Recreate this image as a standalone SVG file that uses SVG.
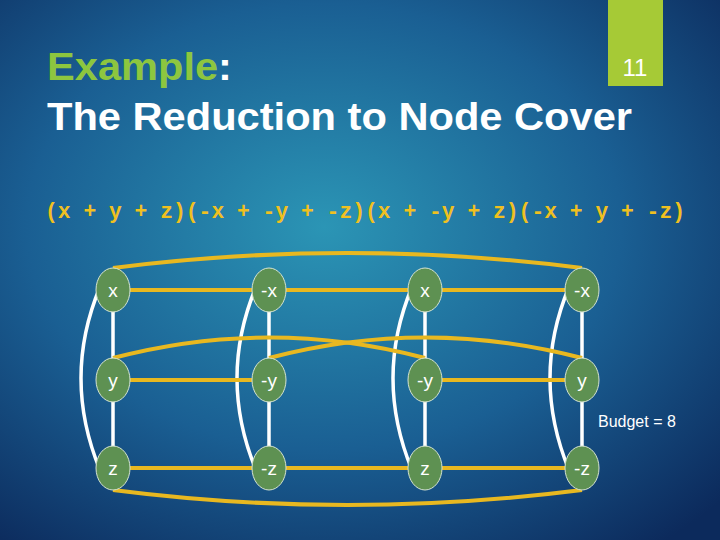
<svg xmlns="http://www.w3.org/2000/svg" width="720" height="540" viewBox="0 0 720 540">
<defs>
<radialGradient id="bg" cx="0.45" cy="0.42" r="0.75">
<stop offset="0" stop-color="#2b95b5"/>
<stop offset="0.55" stop-color="#1a5f93"/>
<stop offset="1" stop-color="#0c2a5c"/>
</radialGradient>
<style>
.n ellipse{fill:#5e9152;stroke:#d6e4d0;stroke-width:1}
.n text{font-family:"Liberation Sans",Arial,sans-serif;font-size:19px;fill:#fff;text-anchor:middle}
.g{stroke:#e8b820;stroke-width:4;fill:none}
.w{stroke:#fff;stroke-width:3.5;fill:none}
</style>
</defs>
<rect width="720" height="540" fill="url(#bg)"/>
<rect x="608" y="0" width="55" height="86" fill="#a6ca36"/>
<text x="635" y="76" font-family="Liberation Sans,Arial,sans-serif" font-size="24" fill="#fff" text-anchor="middle">11</text>
<text x="47" y="80" font-family="Liberation Sans,Arial,sans-serif" font-size="39" font-weight="bold" textLength="185" lengthAdjust="spacingAndGlyphs"><tspan fill="#8dc63f">Example</tspan><tspan fill="#fff">:</tspan></text>
<text x="47" y="130" font-family="Liberation Sans,Arial,sans-serif" font-size="39" font-weight="bold" fill="#fff" textLength="585" lengthAdjust="spacingAndGlyphs">The Reduction to Node Cover</text>
<text x="45" y="218" font-family="Liberation Mono,Courier New,monospace" font-size="22" font-weight="bold" fill="#f0c020" textLength="640" lengthAdjust="spacingAndGlyphs">(x + y + z)(-x + -y + -z)(x + -y + z)(-x + y + -z)</text>
<text x="598" y="427" font-family="Liberation Sans,Arial,sans-serif" font-size="16" fill="#fff">Budget = 8</text>
<g id="connectors">
<path class="w" d="M113 290V468M269 290V468M425 290V468M582 290V468"/>
<path class="w" d="M100 287Q62 378 100 470"/>
<path class="w" d="M256 287Q218 378 256 470"/>
<path class="w" d="M412 287Q374 378 412 470"/>
<path class="w" d="M569 287Q531 378 569 470"/>
<path class="g" d="M130 290H252M286 290H408M442 290H565"/>
<path class="g" d="M130 380H252M442 380H565"/>
<path class="g" d="M130 468H252M286 468H408M442 468H565"/>
<path class="g" d="M113 268Q347 238 582 268"/>
<path class="g" d="M113 358Q269 317 425 358"/>
<path class="g" d="M269 358Q425 317 582 358"/>
<path class="g" d="M113 490Q347 520 582 490"/>
</g>
<g id="n1" class="n"><ellipse cx="113" cy="290" rx="17" ry="22"/><text x="113" y="297">x</text></g>
<g id="n2" class="n"><ellipse cx="269" cy="290" rx="17" ry="22"/><text x="269" y="297">-x</text></g>
<g id="n3" class="n"><ellipse cx="425" cy="290" rx="17" ry="22"/><text x="425" y="297">x</text></g>
<g id="n4" class="n"><ellipse cx="582" cy="290" rx="17" ry="22"/><text x="582" y="297">-x</text></g>
<g id="n5" class="n"><ellipse cx="113" cy="380" rx="17" ry="22"/><text x="113" y="387">y</text></g>
<g id="n6" class="n"><ellipse cx="269" cy="380" rx="17" ry="22"/><text x="269" y="387">-y</text></g>
<g id="n7" class="n"><ellipse cx="425" cy="380" rx="17" ry="22"/><text x="425" y="387">-y</text></g>
<g id="n8" class="n"><ellipse cx="582" cy="380" rx="17" ry="22"/><text x="582" y="387">y</text></g>
<g id="n9" class="n"><ellipse cx="113" cy="468" rx="17" ry="22"/><text x="113" y="475">z</text></g>
<g id="n10" class="n"><ellipse cx="269" cy="468" rx="17" ry="22"/><text x="269" y="475">-z</text></g>
<g id="n11" class="n"><ellipse cx="425" cy="468" rx="17" ry="22"/><text x="425" y="475">z</text></g>
<g id="n12" class="n"><ellipse cx="582" cy="468" rx="17" ry="22"/><text x="582" y="475">-z</text></g>
</svg>
